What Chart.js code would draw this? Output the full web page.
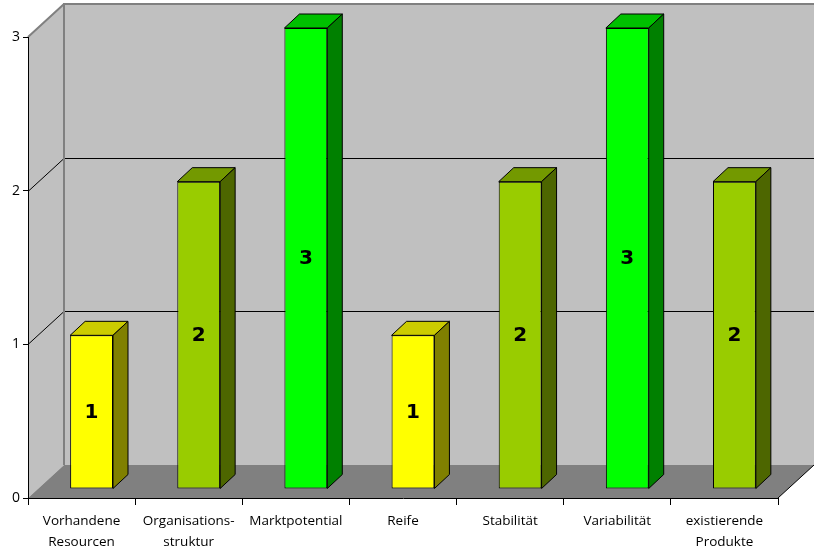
<!DOCTYPE html>
<html>
<head>
<meta charset="utf-8">
<script src="https://cdn.jsdelivr.net/npm/chart.js@4.4.1/dist/chart.umd.min.js"></script>
<style>
  html, body { margin: 0; padding: 0; background: #fff; }
  canvas { display: block; }
</style>
</head>
<body>
<canvas id="bewertung" width="814" height="550"></canvas>
<script>
// Kategorien und Bewertungen
const categories = [
  ['Vorhandene', 'Resourcen'],
  ['Organisations-', 'struktur'],
  'Marktpotential',
  'Reife',
  'Stabilität',
  'Variabilität',
  ['existierende', 'Produkte']
];
const scores = [1, 2, 3, 1, 2, 3, 2];
const yTicks = [0, 1, 2, 3];

// Farben je Bewertung: Vorderseite, Deckel, Seite
const faceColors = { 1: '#ffff00', 2: '#99cc00', 3: '#00ff00' };
const topColors = { 1: '#cccc00', 2: '#739900', 3: '#00c000' };
const sideColors = { 1: '#808000', 2: '#4d6600', 3: '#008000' };

// 3D Tiefe
const DEPTH_X = 36, DEPTH_Y = -33;      // Wand/Boden
const SHIFT_X = 10, SHIFT_Y = -9;       // Balken-Vorderseite
const BAR_DX = 15, BAR_DY = -14;        // Balkentiefe

const walls3d = {
  id: 'walls3d',
  beforeDraw(chart) {
    const { ctx, scales: { x, y } } = chart;
    const l = x.left, r = x.right;
    const b = y.getPixelForValue(yTicks[0]);
    const t = y.getPixelForValue(yTicks[yTicks.length - 1]);
    ctx.save();
    // Rückwand
    ctx.fillStyle = '#c0c0c0';
    ctx.fillRect(l + DEPTH_X, t + DEPTH_Y, r - l, b - t);
    // linke Wand
    ctx.beginPath();
    ctx.moveTo(l, b); ctx.lineTo(l, t);
    ctx.lineTo(l + DEPTH_X, t + DEPTH_Y); ctx.lineTo(l + DEPTH_X, b + DEPTH_Y);
    ctx.closePath(); ctx.fill();
    // Boden
    ctx.fillStyle = '#808080';
    ctx.beginPath();
    ctx.moveTo(l, b); ctx.lineTo(r, b);
    ctx.lineTo(r + DEPTH_X, b + DEPTH_Y); ctx.lineTo(l + DEPTH_X, b + DEPTH_Y);
    ctx.closePath(); ctx.fill();
    // Gitterlinien
    ctx.strokeStyle = '#000';
    ctx.lineWidth = 1;
    yTicks.slice(1, -1).forEach(v => {
      const py = Math.round(y.getPixelForValue(v)) + 0.5;
      ctx.beginPath();
      ctx.moveTo(l, py);
      ctx.lineTo(l + DEPTH_X, py + DEPTH_Y);
      ctx.lineTo(r + DEPTH_X, py + DEPTH_Y);
      ctx.stroke();
    });
    // Bodenkante rechts
    ctx.beginPath();
    ctx.moveTo(r, b); ctx.lineTo(r + DEPTH_X, b + DEPTH_Y);
    ctx.stroke();
    // Wandkanten
    ctx.strokeStyle = '#808080';
    ctx.lineWidth = 2;
    ctx.beginPath();
    ctx.moveTo(l + DEPTH_X, b + DEPTH_Y);
    ctx.lineTo(l + DEPTH_X, t + DEPTH_Y);
    ctx.lineTo(r + DEPTH_X, t + DEPTH_Y);
    ctx.moveTo(l, t);
    ctx.lineTo(l + DEPTH_X, t + DEPTH_Y);
    ctx.stroke();
    ctx.restore();
  },
  beforeDatasetsDraw(chart) {
    chart.ctx.save();
    chart.ctx.translate(SHIFT_X, SHIFT_Y);
  },
  afterDatasetsDraw(chart) {
    const ctx = chart.ctx;
    const meta = chart.getDatasetMeta(0);
    meta.data.forEach((bar, i) => {
      const { x, y, base, width } = bar.getProps(['x', 'y', 'base', 'width'], true);
      const x0 = x - width / 2, x1 = x + width / 2;
      const v = scores[i];
      ctx.lineWidth = 1;
      ctx.strokeStyle = '#000';
      ctx.lineJoin = 'round';
      // Deckel
      ctx.fillStyle = topColors[v];
      ctx.beginPath();
      ctx.moveTo(x0, y); ctx.lineTo(x0 + BAR_DX, y + BAR_DY);
      ctx.lineTo(x1 + BAR_DX, y + BAR_DY); ctx.lineTo(x1, y);
      ctx.closePath(); ctx.fill(); ctx.stroke();
      // Seite
      ctx.fillStyle = sideColors[v];
      ctx.beginPath();
      ctx.moveTo(x1, y); ctx.lineTo(x1 + BAR_DX, y + BAR_DY);
      ctx.lineTo(x1 + BAR_DX, base + BAR_DY); ctx.lineTo(x1, base);
      ctx.closePath(); ctx.fill(); ctx.stroke();
      // Wert
      ctx.fillStyle = '#000';
      ctx.font = 'bold 20px "DejaVu Sans"';
      ctx.textAlign = 'center';
      ctx.textBaseline = 'middle';
      ctx.fillText(String(v), x, (y + base) / 2 + 1);
    });
    ctx.restore();
  }
};

new Chart(document.getElementById('bewertung'), {
  type: 'bar',
  data: {
    labels: categories,
    datasets: [{
      data: scores,
      backgroundColor: scores.map(v => faceColors[v]),
      borderColor: '#000',
      borderWidth: 1,
      borderSkipped: false,
      categoryPercentage: 1,
      barPercentage: 0.4,
      clip: false
    }]
  },
  options: {
    responsive: false,
    animation: false,
    devicePixelRatio: 1,
    layout: { padding: { top: 37, right: 36, left: 0, bottom: 0 } },
    plugins: { legend: { display: false }, tooltip: { enabled: false } },
    scales: {
      x: {
        grid: { drawOnChartArea: false, tickLength: 7, color: '#000', offset: true },
        border: { color: '#000', width: 1 },
        ticks: {
          color: '#000', maxRotation: 0, autoSkip: false, padding: 5,
          font: { family: '"Open Sans"', size: 13.5, lineHeight: 1.6 }
        },
        afterFit(scale) { scale.height = 52; }
      },
      y: {
        min: 0, max: 3,
        grid: { drawOnChartArea: false, tickLength: 5, color: '#000' },
        border: { color: '#000', width: 1 },
        ticks: {
          stepSize: 1, color: '#000', padding: 3,
          font: { family: '"Open Sans"', size: 14 }
        },
        afterFit(scale) { scale.width = 28; }
      }
    }
  },
  plugins: [walls3d]
});
</script>
</body>
</html>
